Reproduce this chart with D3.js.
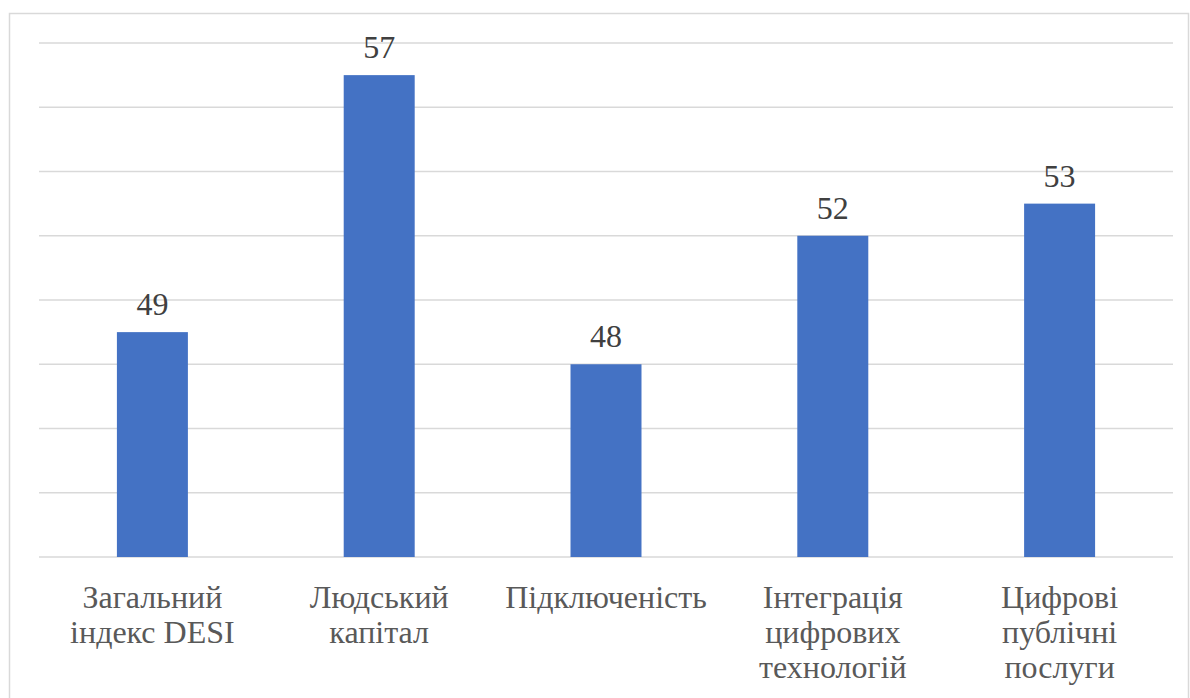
<!DOCTYPE html>
<html>
<head>
<meta charset="utf-8">
<script src="https://cdn.jsdelivr.net/npm/d3@7"></script>
<style>
  body { margin: 0; background: #fff; }
</style>
</head>
<body>
<div class="chart"></div>
<script>
var categories = [
    ["Загальний", "індекс DESI"],
    ["Людський", "капітал"],
    ["Підключеність"],
    ["Інтеграція", "цифрових", "технологій"],
    ["Цифрові", "публічні", "послуги"]
];
var values = [49, 57, 48, 52, 53];
var gridTicks = [42, 44, 46, 48, 50, 52, 54, 56, 58];

var width = 1190, height = 698;
var plotLeft = 39, plotRight = 1173, plotTop = 43, plotBottom = 557;
var serif = "Liberation Serif";

var svg = d3.select(".chart")
    .append("svg")
    .attr("width", width)
    .attr("height", height)

// chart area border
svg.append("rect")
    .attr("x", 9.5)
    .attr("y", 13.5)
    .attr("width", 1179)
    .attr("height", 700)
    .attr("fill", "white")
    .attr("stroke", "#d9d9d9")
    .style("stroke-width", 1.5);

var x = d3.scaleBand()
    .domain(d3.range(values.length))
    .range([plotLeft, plotRight])
    .paddingInner(0.687)
    .paddingOuter(0.3435);

var y = d3.scaleLinear()
    .domain([42, 58])
    .range([plotBottom, plotTop]);

svg.selectAll(".grid")
    .data(gridTicks)
    .enter().append("line")
    .attr("class", "grid")
    .attr("x1", plotLeft)
    .attr("x2", plotRight)
    .attr("y1", function(d) { return y(d); })
    .attr("y2", function(d) { return y(d); })
    .attr("stroke", "#d9d9d9")
    .style("stroke-width", 1.5);

svg.selectAll(".bar")
    .data(values)
    .enter().append("rect")
    .attr("class", "bar")
    .attr("x", function(d, i) { return x(i); })
    .attr("y", function(d) { return y(d); })
    .attr("width", x.bandwidth())
    .attr("height", function(d) { return plotBottom - y(d); })
    .attr("fill", "#4472c4");

svg.selectAll(".valueLabel")
    .data(values)
    .enter().append("text")
    .attr("class", "valueLabel")
    .attr("x", function(d, i) { return x(i) + x.bandwidth() / 2; })
    .attr("y", function(d) { return y(d) - 17; })
    .attr("font-family", serif)
    .attr("font-size", 32)
    .attr("fill", "#404040")
    .style("text-anchor", "middle")
    .text(function(d) { return d; });

var catLabel = svg.selectAll(".catLabel")
    .data(categories)
    .enter().append("text")
    .attr("class", "catLabel")
    .attr("transform", function(d, i) {
        return "translate(" + (x(i) + x.bandwidth() / 2) + "," + (plotBottom + 51) + ")";
    })
    .attr("font-family", serif)
    .attr("font-size", 32)
    .attr("fill", "#595959")
    .style("text-anchor", "middle");

catLabel.selectAll("tspan")
    .data(function(d) { return d; })
    .enter().append("tspan")
    .attr("x", 0)
    .attr("y", function(d, i) { return i * 35; })
    .text(function(d) { return d; });
</script>
</body>
</html>
